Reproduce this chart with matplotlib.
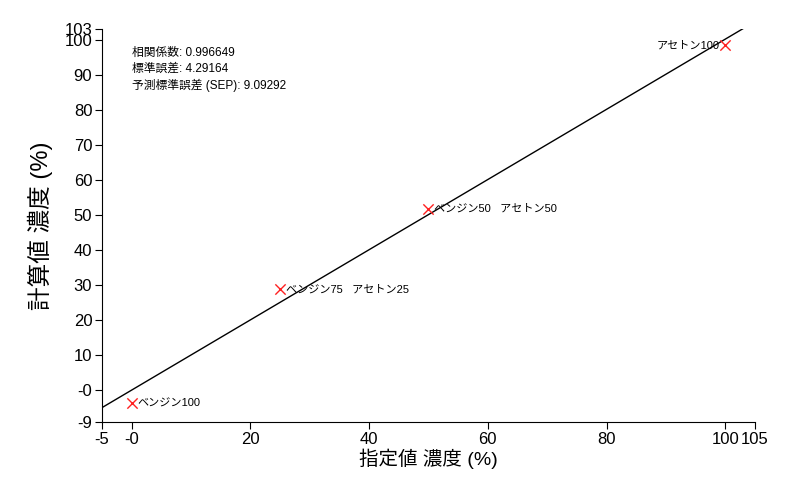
import numpy as np
from matplotlib import pyplot as plt

plt.rcParams['font.family'] = ['Liberation Sans', 'Noto Sans CJK JP', 'DejaVu Sans']

# 指定値と計算値
x_set = [0, 25, 50, 100]
y_calc = [-3.65, 28.8, 51.8, 98.3]
labels = ['ベンジン100', 'ベンジン75   アセトン25', 'ベンジン50   アセトン50', 'アセトン100']

# 回帰直線
slope = 1.0
intercept = 0.1

x_ticks = [-5, 0, 20, 40, 60, 80, 100, 105]
x_ticklabels = ['-5', '-0', '20', '40', '60', '80', '100', '105']
y_ticks = [-9, 0, 10, 20, 30, 40, 50, 60, 70, 80, 90, 100, 103]
y_ticklabels = ['-9', '-0', '10', '20', '30', '40', '50', '60', '70', '80', '90', '100', '103']

stats = ['相関係数: 0.996649', '標準誤差: 4.29164', '予測標準誤差 (SEP): 9.09292']


def main():
    fig = plt.figure(figsize=(7.98, 4.8), dpi=100)
    ax = fig.add_axes([0.1278, 0.1208, 0.946 - 0.1278, 0.9396 - 0.1208])
    ax.set_xlim(-5, 105)
    ax.set_ylim(-9, 103)

    lx = np.array([-5, 105])
    ax.plot(lx, slope * lx + intercept, color='black', lw=1.0)
    ax.scatter(x_set, y_calc, marker='x', color='#ff2020', s=55, linewidths=1.0, zorder=3)

    for i in range(len(x_set)):
        if i == len(x_set) - 1:
            ax.annotate(labels[i], (x_set[i], y_calc[i]), xytext=(-4, 0), textcoords='offset points',
                        ha='right', va='center', fontsize=8)
        else:
            ax.annotate(labels[i], (x_set[i], y_calc[i]), xytext=(4, 0), textcoords='offset points',
                        ha='left', va='center', fontsize=8)

    ax.text(0.0459, 0.955, '\n'.join(stats), transform=ax.transAxes, ha='left', va='top',
            fontsize=8.5, linespacing=1.4)

    ax.spines['top'].set_visible(False)
    ax.spines['right'].set_visible(False)
    ax.set_xticks(x_ticks)
    ax.set_xticklabels(x_ticklabels)
    ax.set_yticks(y_ticks)
    ax.set_yticklabels(y_ticklabels)
    ax.tick_params(direction='out', length=5, labelsize=12, pad=2)

    ax.set_xlabel('指定値 濃度 (%)', fontsize=14, labelpad=1)
    ax.set_ylabel('計算値 濃度 (%)', fontsize=17, labelpad=8)

    fig.savefig('out.png', dpi=100)


if __name__ == '__main__':
    main()
